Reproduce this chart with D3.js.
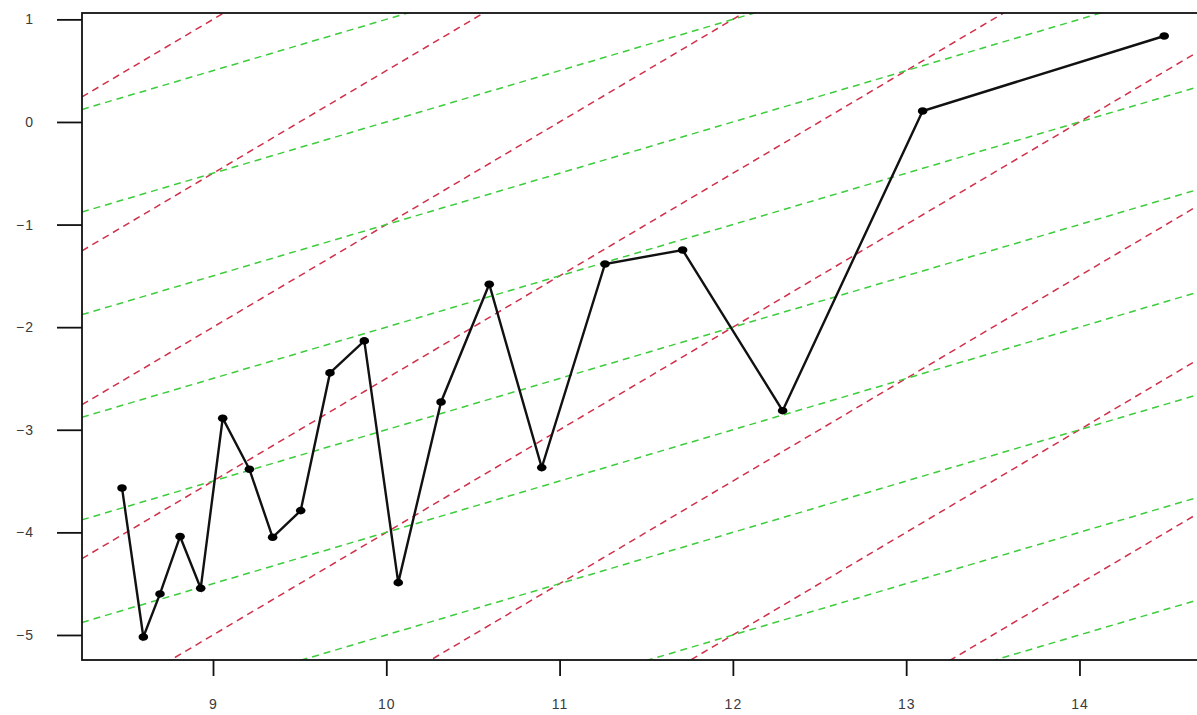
<!DOCTYPE html>
<html>
<head>
<meta charset="utf-8">
<script src="https://cdn.jsdelivr.net/npm/d3@7"></script>
<style>
  body { margin: 0; background: #fff; }
  svg { display: block; }
</style>
</head>
<body>
<div id="chart"></div>
<script>
// series values
const xVals = [8.475, 8.598, 8.694, 8.810, 8.929, 9.056, 9.210, 9.344, 9.506, 9.675,
  9.873, 10.069, 10.316, 10.594, 10.897, 11.262, 11.710, 12.287, 13.095, 14.489];
const yVals = [-3.567, -5.02, -4.60, -4.04, -4.545, -2.888, -3.385, -4.048, -3.788, -2.446,
  -2.134, -4.49, -2.729, -1.582, -3.369, -1.384, -1.248, -2.814, 0.107, 0.838];

// reference lines y = a + b*x
const redSlope = 1;
const redIntercepts = [-8, -9.5, -11, -12.5, -14, -15.5, -17, -18.5];
const greenSlope = 0.5;
const greenIntercepts = [-4, -5, -6, -7, -8, -9, -10, -11, -12, -13];

const xTicks = [9, 10, 11, 12, 13, 14];
const yTicks = [1, 0, -1, -2, -3, -4, -5];

const W = 1197, H = 715;
const svg = d3.select("#chart").append("svg")
  .attr("width", W)
  .attr("height", H);

// plot box (right side runs past the picture edge)
const box = { left: 82, right: 1220, top: 13, bottom: 660 };

const x = d3.scaleLinear().domain([8.244, 14.811]).range([box.left, box.right]);
const y = d3.scaleLinear().domain([-5.244, 1.062]).range([box.bottom, box.top]);

svg.append("defs").append("clipPath")
  .attr("id", "plot-clip")
  .append("rect")
  .attr("x", box.left).attr("y", box.top)
  .attr("width", box.right - box.left).attr("height", box.bottom - box.top);

const plot = svg.append("g").attr("clip-path", "url(#plot-clip)");

const [x0, x1] = x.domain();

function drawAblines(intercepts, slope, color) {
  plot.selectAll(null).data(intercepts).enter()
    .append("line")
    .attr("x1", x(x0)).attr("y1", a => y(a + slope * x0))
    .attr("x2", x(x1)).attr("y2", a => y(a + slope * x1))
    .attr("stroke", color)
    .attr("stroke-width", 1.5)
    .attr("stroke-dasharray", "7,5");
}

drawAblines(redIntercepts, redSlope, "#d0304a");
drawAblines(greenIntercepts, greenSlope, "#3ccc3c");

const pts = xVals.map((v, i) => ({ x: v, y: yVals[i] }));

plot.append("path").datum(pts)
  .attr("d", d3.line().x(d => x(d.x)).y(d => y(d.y)))
  .attr("fill", "none")
  .attr("stroke", "#111")
  .attr("stroke-width", 2.4);

plot.selectAll(".pt").data(pts).enter()
  .append("ellipse")
  .attr("class", "pt")
  .attr("cx", d => x(d.x))
  .attr("cy", d => y(d.y))
  .attr("rx", 4.8)
  .attr("ry", 3.8)
  .attr("fill", "#000");

// box
svg.append("rect")
  .attr("x", box.left).attr("y", box.top)
  .attr("width", box.right - box.left).attr("height", box.bottom - box.top)
  .attr("fill", "none")
  .attr("stroke", "#111")
  .attr("stroke-width", 1.8);

const labelStyle = sel => sel
  .style("font-family", "Liberation Sans, Arial, sans-serif")
  .style("font-size", "14px")
  .style("letter-spacing", "1px")
  .attr("fill", "#3a3a3a");

// y axis
const yAxis = svg.append("g").attr("transform", `translate(${box.left},0)`)
  .call(d3.axisLeft(y).tickValues(yTicks).tickSize(25).tickPadding(23).tickFormat(d3.format("d")));
yAxis.select(".domain").remove();
yAxis.selectAll(".tick line").attr("stroke", "#111").attr("stroke-width", 1.8);
yAxis.selectAll(".tick text").call(labelStyle);

// x axis
const xAxis = svg.append("g").attr("transform", `translate(0,${box.bottom})`)
  .call(d3.axisBottom(x).tickValues(xTicks).tickSize(16).tickPadding(23).tickFormat(d3.format("d")));
xAxis.select(".domain").remove();
xAxis.selectAll(".tick line").attr("stroke", "#111").attr("stroke-width", 1.8);
xAxis.selectAll(".tick text").call(labelStyle);
</script>
</body>
</html>
